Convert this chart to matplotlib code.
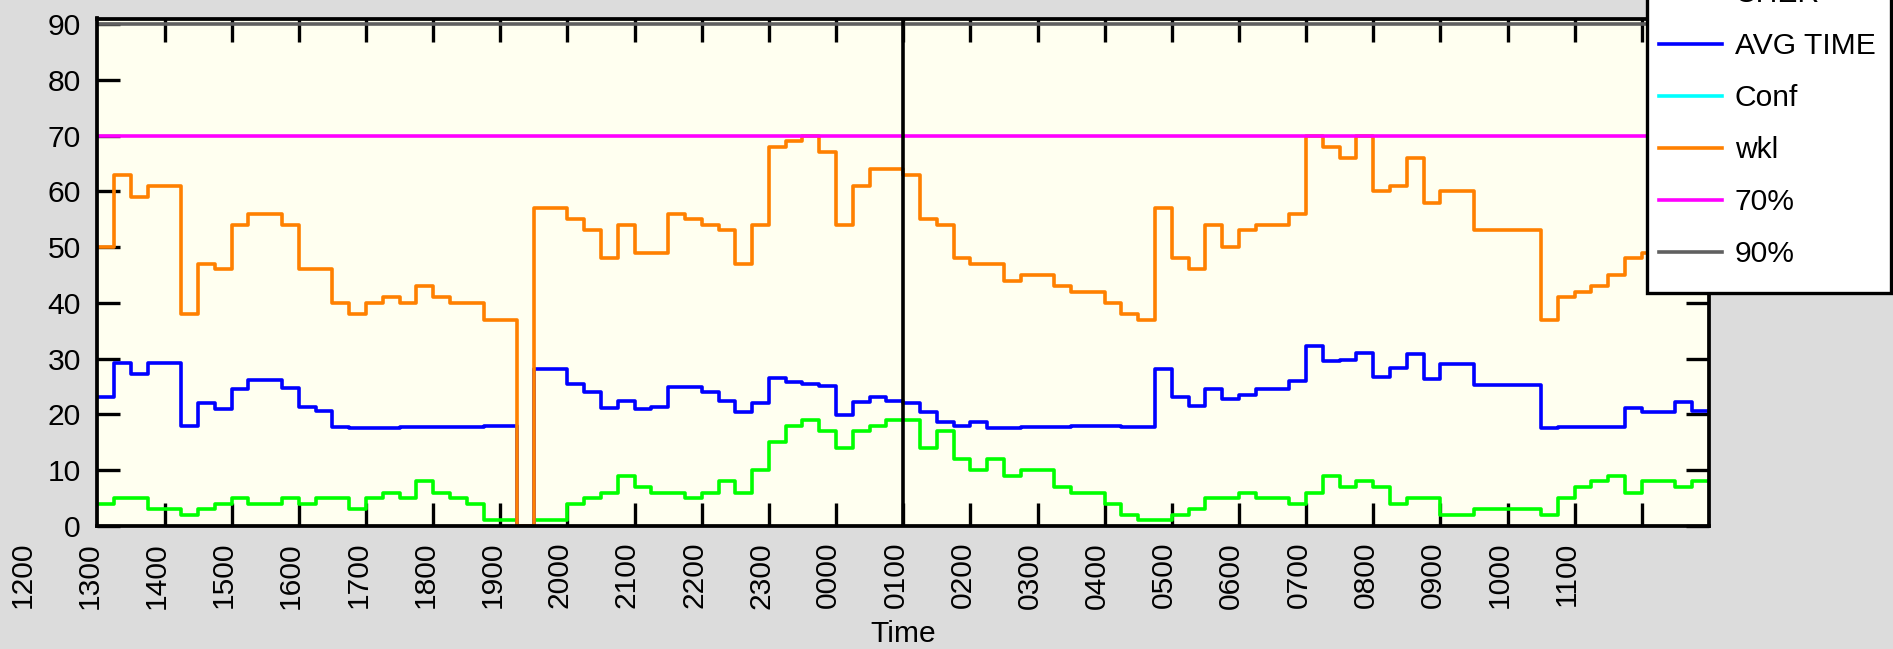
import numpy as np
import matplotlib
matplotlib.use('Agg')
import matplotlib.pyplot as plt
import matplotlib.transforms as mtransforms
from matplotlib.patches import Rectangle

plt.rcParams['font.family'] = ['Liberation Sans', 'DejaVu Sans']

W, H, DPI = 1893, 649, 100
fs = 21.6

# quarter hours since 13:00, value i holds for the 15 minutes ending at hours[i]
hours = np.arange(97) * 0.25

cher = [4, 4, 5, 5, 3, 3, 2, 3, 4, 5, 4, 4, 5, 4, 5, 5,
        3, 5, 6, 5, 8, 6, 5, 4, 1, 1, 0, 1, 1, 4, 5, 6,
        9, 7, 6, 6, 5, 6, 8, 6, 10, 15, 18, 19, 17, 14, 17, 18,
        19, 19, 14, 17, 12, 10, 12, 9, 10, 10, 7, 6, 6, 4, 2, 1,
        1, 2, 3, 5, 5, 6, 5, 5, 4, 6, 9, 7, 8, 7, 4, 5,
        5, 2, 2, 3, 3, 3, 3, 2, 5, 7, 8, 9, 6, 8, 8, 7, 8]

avg_time = [23.2, 23.2, 29.2, 27.2, 29.3, 29.3, 18.0, 22.1, 20.9, 24.5, 26.1, 26.2, 24.7, 21.3, 20.7, 17.8,
            17.5, 17.5, 17.6, 17.7, 17.7, 17.8, 17.8, 17.8, 17.9, 17.9, 0, 28.1, 28.1, 25.4, 24.0, 21.1,
            22.5, 20.9, 21.4, 24.9, 24.9, 24.0, 22.5, 20.5, 22.0, 26.6, 25.9, 25.4, 25.1, 19.9, 22.3, 23.1,
            22.5, 22.1, 20.4, 18.7, 17.9, 18.7, 17.5, 17.5, 17.7, 17.7, 17.8, 17.9, 17.9, 17.9, 17.8, 17.8,
            28.1, 23.1, 21.5, 24.5, 22.7, 23.5, 24.5, 24.5, 26.0, 32.3, 29.6, 29.7, 31.0, 26.8, 28.4, 30.8,
            26.3, 29.0, 29.0, 25.3, 25.3, 25.3, 25.3, 17.5, 17.8, 17.7, 17.7, 17.8, 21.2, 20.4, 20.4, 22.3, 20.7]

conf = []  # no visible data

wkl = [np.nan, 50, 63, 59, 61, 61, 38, 47, 46, 54, 56, 56, 54, 46, 46, 40,
       38, 40, 41, 40, 43, 41, 40, 40, 37, 37, 0, 57, 57, 55, 53, 48,
       54, 49, 49, 56, 55, 54, 53, 47, 54, 68, 69, 70, 67, 54, 61, 64,
       64, 63, 55, 54, 48, 47, 47, 44, 45, 45, 43, 42, 42, 40, 38, 37,
       57, 48, 46, 54, 50, 53, 54, 54, 56, 70, 68, 66, 70, 60, 61, 66,
       58, 60, 60, 53, 53, 53, 53, 37, 41, 42, 43, 45, 48, 49, 50, 52, 53]

level70 = 70
level90 = 90
marker_hour = 12  # 0100

hour_labels = ['1200', '1300', '1400', '1500', '1600', '1700', '1800', '1900',
               '2000', '2100', '2200', '2300', '0000', '0100', '0200', '0300',
               '0400', '0500', '0600', '0700', '0800', '0900', '1000', '1100']
label_pos = np.arange(-1, 23)
tick_pos = np.arange(1, 24)

fig = plt.figure(figsize=(W / DPI, H / DPI), dpi=DPI, facecolor='#dcdcdc')
ax = fig.add_axes([97.4 / W, 1 - 526 / H, (1709 - 97.4) / W, (526 - 18.5) / H])
ax.set_facecolor('#fffff0')

lw = 2.6
ax.plot(hours, cher, color='#00ff00', lw=lw, drawstyle='steps-pre', label='CHER')
ax.plot(hours, avg_time, color='#0000ff', lw=lw, drawstyle='steps-pre', label='AVG TIME')
ax.plot(conf, conf, color='#00ffff', lw=lw, label='Conf')
ax.plot(hours, wkl, color='#ff8000', lw=lw, drawstyle='steps-pre', label='wkl')
ax.axhline(level70, color='#ff00ff', lw=lw, label='70%')
ax.axhline(level90, color='#606060', lw=lw, label='90%')
ax.axvline(marker_hour, color='black', lw=lw, zorder=3)

ax.set_xlim(0, 24)
ax.set_ylim(0, 91)
ax.set_xticks(tick_pos)
ax.set_yticks(range(0, 91, 10))
ax.tick_params(which='both', direction='in', length=16.5, width=2.4, top=True, right=True,
               labelsize=fs, labelbottom=False)
ax.yaxis.set_tick_params(pad=12)
for s in ax.spines.values():
    s.set_linewidth(2.7)

trans = ax.get_xaxis_transform() + mtransforms.ScaledTranslation(-0.077, -0.16, fig.dpi_scale_trans)
for p, lab in zip(label_pos, hour_labels):
    ax.text(p, 0, lab, transform=trans, rotation=90, ha='center', va='top', fontsize=fs, clip_on=False)

ax.set_xlabel('Time', fontsize=fs, va='baseline')
ax.xaxis.set_label_coords(0.5, -(642 - 526) / (526 - 18.5))

handles, labels = ax.get_legend_handles_labels()
leg = fig.legend(handles, labels, loc='lower left', bbox_to_anchor=(1647 / W, 1 - 280.5 / H),
                 bbox_transform=fig.transFigure, fontsize=fs, frameon=False, handlelength=2.09,
                 handletextpad=0.43, borderpad=0.41, labelspacing=0.80, borderaxespad=0)

fig.canvas.draw()
bb = leg.get_window_extent()
frame_bottom = (1 - 293 / H) * H
box = Rectangle((bb.x0, frame_bottom), bb.width + 3, bb.y1 - frame_bottom, transform=None,
                facecolor='white', edgecolor='black', lw=2.4, zorder=leg.get_zorder() - 0.1)
fig.add_artist(box)

fig.savefig('out.png', dpi=DPI, facecolor=fig.get_facecolor())
